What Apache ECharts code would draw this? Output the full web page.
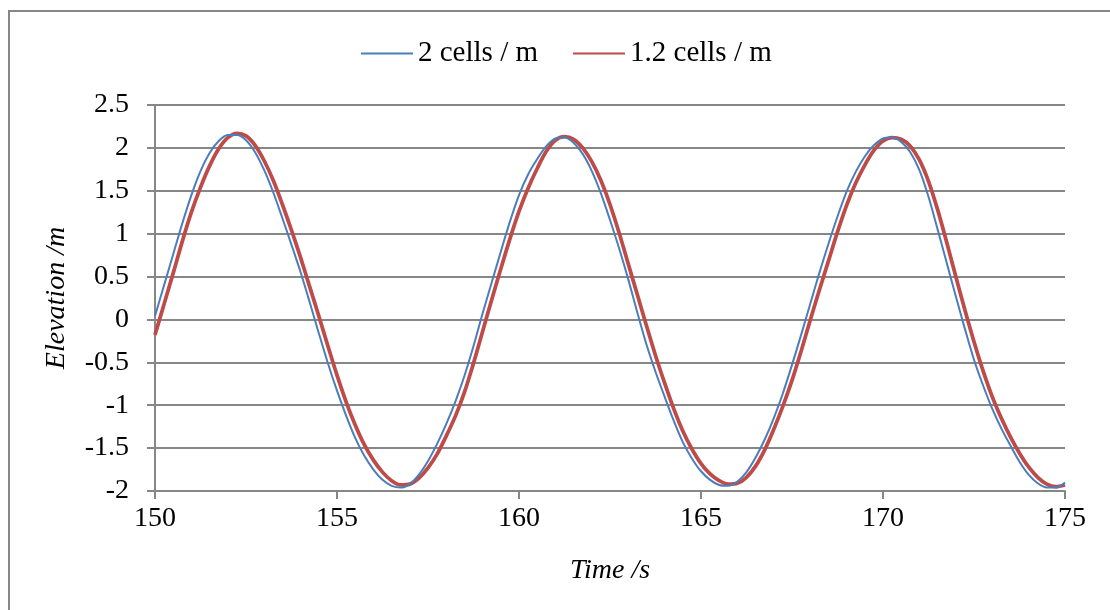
<!DOCTYPE html>
<html>
<head>
<meta charset="utf-8">
<script src="https://cdn.jsdelivr.net/npm/echarts@6/dist/echarts.min.js"></script>
<style>
  html, body { margin: 0; padding: 0; background: #fff; }
  #chart { width: 1110px; height: 610px; }
</style>
</head>
<body>
<div id="chart"></div>
<script>
// Free-surface elevation sampled every 0.25 s from t = 150 s to 175 s, for two mesh resolutions
const seriesNames = ['2 cells / m', '1.2 cells / m'];

const timeStart = 150;
const timeStep = 0.25;

const elevation2CellsPerM = [
  0.04, 0.40, 0.76, 1.12, 1.45, 1.73, 1.94, 2.08, 2.15, 2.15,
  2.09, 1.95, 1.74, 1.48, 1.18, 0.87, 0.55, 0.20, -0.16, -0.51,
  -0.83, -1.12, -1.38, -1.59, -1.75, -1.87, -1.94, -1.96, -1.92, -1.81,
  -1.65, -1.45, -1.22, -0.96, -0.66, -0.31, 0.07, 0.43, 0.79, 1.14,
  1.45, 1.69, 1.87, 2.02, 2.11, 2.12, 2.06, 1.93, 1.73, 1.47,
  1.16, 0.83, 0.47, 0.08, -0.29, -0.61, -0.90, -1.18, -1.43, -1.62,
  -1.77, -1.87, -1.93, -1.94, -1.89, -1.78, -1.61, -1.40, -1.15, -0.86,
  -0.53, -0.18, 0.18, 0.54, 0.88, 1.20, 1.49, 1.72, 1.90, 2.03,
  2.11, 2.12, 2.07, 1.95, 1.74, 1.43, 1.05, 0.66, 0.27, -0.11,
  -0.47, -0.77, -1.04, -1.27, -1.47, -1.66, -1.81, -1.91, -1.96, -1.96,
  -1.90
];

const elevation1p2CellsPerM = [
  -0.18, 0.18, 0.54, 0.91, 1.25, 1.54, 1.79, 1.99, 2.12, 2.17,
  2.14, 2.03, 1.85, 1.62, 1.34, 1.04, 0.72, 0.38, 0.04, -0.31,
  -0.65, -0.96, -1.23, -1.46, -1.64, -1.78, -1.88, -1.93, -1.92, -1.85,
  -1.73, -1.57, -1.36, -1.13, -0.85, -0.51, -0.14, 0.23, 0.59, 0.94,
  1.26, 1.53, 1.76, 1.96, 2.09, 2.13, 2.10, 2.00, 1.84, 1.62,
  1.34, 1.01, 0.65, 0.29, -0.07, -0.42, -0.74, -1.04, -1.30, -1.51,
  -1.68, -1.80, -1.88, -1.92, -1.91, -1.84, -1.71, -1.52, -1.28, -1.01,
  -0.71, -0.37, -0.01, 0.34, 0.68, 1.02, 1.33, 1.59, 1.80, 1.97,
  2.08, 2.12, 2.10, 2.02, 1.86, 1.61, 1.28, 0.90, 0.50, 0.11,
  -0.26, -0.60, -0.90, -1.15, -1.37, -1.56, -1.72, -1.84, -1.92, -1.95,
  -1.93
];

const xAxisTitle = 'Time /s';
const yAxisTitle = 'Elevation /m';

// pair each sample with its time stamp
const withTime = values => values.map((v, i) => [timeStart + i * timeStep, v]);

const FONT = '"Liberation Serif", "Times New Roman", serif';
const GRAY = '#878787';
const BLUE = '#4a7ebb';
const RED = '#be4b48';

const chart = echarts.init(document.getElementById('chart'), null, { renderer: 'canvas' });

chart.setOption({
  backgroundColor: '#ffffff',
  animation: false,
  graphic: [{
    type: 'rect',
    shape: { x: 9, y: 11, width: 1300, height: 800 },
    style: { fill: 'none', stroke: GRAY, lineWidth: 2 },
    silent: true
  }],
  legend: {
    top: 34,
    left: 355,
    itemWidth: 52,
    itemHeight: 14,
    itemGap: 34,
    itemStyle: { opacity: 0 },
    textStyle: { fontFamily: FONT, fontSize: 29, color: '#000' },
    data: seriesNames
  },
  grid: { left: 155, right: 45, top: 105, bottom: 119 },
  xAxis: {
    type: 'value',
    min: 150, max: 175, interval: 5,
    name: xAxisTitle,
    nameLocation: 'middle',
    nameGap: 66,
    nameTextStyle: { fontFamily: FONT, fontSize: 28, fontStyle: 'italic', color: '#000' },
    axisLine: { show: true, onZero: false, lineStyle: { color: GRAY, width: 2 } },
    axisTick: { show: true, inside: false, length: 8, lineStyle: { color: GRAY, width: 2 } },
    axisLabel: { fontFamily: FONT, fontSize: 28, color: '#000', margin: 14 },
    splitLine: { show: false }
  },
  yAxis: {
    type: 'value',
    min: -2, max: 2.5, interval: 0.5,
    name: yAxisTitle,
    nameLocation: 'middle',
    nameGap: 84,
    nameRotate: 90,
    nameTextStyle: { fontFamily: FONT, fontSize: 28, fontStyle: 'italic', color: '#000' },
    axisLine: { show: true, lineStyle: { color: GRAY, width: 2 } },
    axisTick: { show: true, inside: false, length: 8, lineStyle: { color: GRAY, width: 2 } },
    axisLabel: { fontFamily: FONT, fontSize: 28, color: '#000', margin: 26 },
    splitLine: { show: true, lineStyle: { color: GRAY, width: 2 } }
  },
  series: [
    {
      name: seriesNames[0],
      type: 'line',
      data: withTime(elevation2CellsPerM),
      smooth: 0.3,
      symbol: 'none',
      lineStyle: { color: BLUE, width: 2 },
      itemStyle: { color: BLUE },
      z: 3
    },
    {
      name: seriesNames[1],
      type: 'line',
      data: withTime(elevation1p2CellsPerM),
      smooth: 0.3,
      symbol: 'none',
      lineStyle: { color: RED, width: 3.75 },
      itemStyle: { color: RED },
      z: 2
    }
  ]
});
</script>
</body>
</html>
